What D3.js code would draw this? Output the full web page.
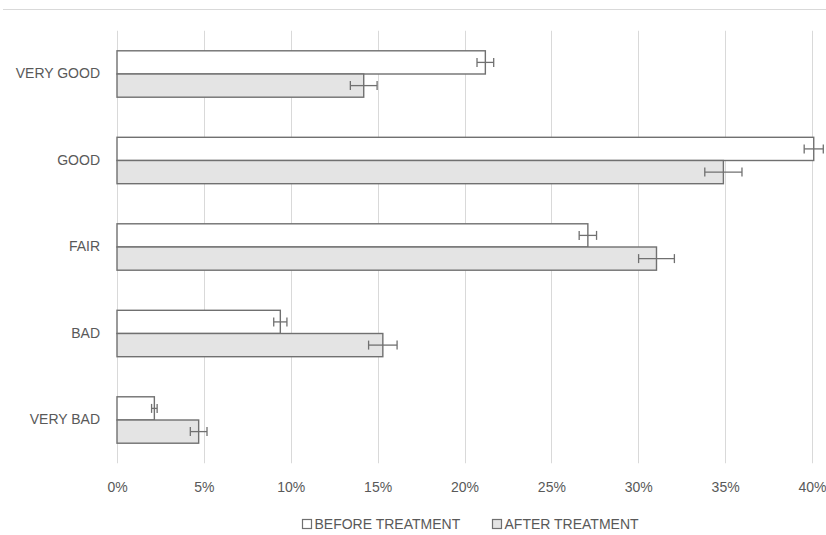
<!DOCTYPE html>
<html><head><meta charset="utf-8">
<script src="https://cdn.jsdelivr.net/npm/d3@7"></script>
<style>body{margin:0;background:#fff;}svg{display:block;font-family:"Liberation Sans",Arial,sans-serif;}</style>
</head><body><svg id="c" width="826" height="535"></svg>
<script>
const categories = ["VERY GOOD","GOOD","FAIR","BAD","VERY BAD"];
const seriesNames = ["BEFORE TREATMENT","AFTER TREATMENT"];
const beforeVals = [21.2, 40.1, 27.1, 9.4, 2.15];
const beforeErr = [0.48, 0.55, 0.5, 0.38, 0.16];
const afterVals = [14.2, 34.9, 31.05, 15.3, 4.7];
const afterErr = [0.77, 1.07, 1.03, 0.82, 0.48];
const xTicks = [0,5,10,15,20,25,30,35,40];

(function(){
const svg = d3.select("#c");
const mLeft = 117, mRight = 812, mTop = 30.75, mBottom = 463.25;
const x = d3.scaleLinear().domain([0,40]).range([mLeft,mRight]);
const y = d3.scaleBand().domain(categories).range([mTop,mBottom]);
const barH = 23.2;
const textCol = "#595959", strokeCol = "#707070";

svg.append("line").attr("x1",3).attr("x2",826).attr("y1",9.5).attr("y2",9.5).attr("stroke","#d9d9d9").attr("stroke-width",1);

svg.append("g").selectAll("line").data(xTicks).join("line")
  .attr("x1",d=>Math.round(x(d))+0.5).attr("x2",d=>Math.round(x(d))+0.5)
  .attr("y1",mTop).attr("y2",mBottom).attr("stroke","#d9d9d9").attr("stroke-width",1);

const xa = svg.append("g").attr("transform",`translate(0,${mBottom})`)
  .call(d3.axisBottom(x).tickValues(xTicks).tickFormat(d=>d+"%").tickSize(0).tickPadding(19));
xa.select(".domain").remove();
xa.selectAll("text").attr("fill",textCol).attr("font-size",14).attr("font-family","Liberation Sans, Arial, sans-serif");

const ya = svg.append("g").attr("transform",`translate(${mLeft},0)`)
  .call(d3.axisLeft(y).tickSize(0).tickPadding(17));
ya.select(".domain").remove();
ya.selectAll("text").attr("fill",textCol).attr("font-size",14).attr("font-family","Liberation Sans, Arial, sans-serif");

const series = [
  {name:seriesNames[0], vals:beforeVals, err:beforeErr, fill:"#ffffff", off:-barH},
  {name:seriesNames[1], vals:afterVals, err:afterErr, fill:"#e4e4e4", off:0}
];
series.forEach(s=>{
  const g = svg.append("g");
  g.selectAll("rect").data(categories).join("rect")
    .attr("x",x(0)).attr("y",(c)=>y(c)+y.bandwidth()/2+s.off)
    .attr("width",(c,i)=>x(s.vals[i])-x(0)).attr("height",barH)
    .attr("fill",s.fill).attr("stroke",strokeCol).attr("stroke-width",1.4);
  categories.forEach((c,i)=>{
    const cy = y(c)+y.bandwidth()/2+s.off+barH/2;
    const x1 = x(s.vals[i]-s.err[i]), x2 = x(s.vals[i]+s.err[i]);
    g.append("line").attr("x1",x1).attr("x2",x2).attr("y1",cy).attr("y2",cy).attr("stroke",strokeCol).attr("stroke-width",1.3);
    [x1,x2].forEach(xx=>g.append("line").attr("x1",xx).attr("x2",xx).attr("y1",cy-4.5).attr("y2",cy+4.5).attr("stroke",strokeCol).attr("stroke-width",1.3));
  });
});

const legX = [302.5, 492.5];
series.forEach((s,i)=>{
  svg.append("rect").attr("x",legX[i]).attr("y",519.5).attr("width",9).attr("height",9)
    .attr("fill",s.fill).attr("stroke",strokeCol).attr("stroke-width",1.2);
  svg.append("text").attr("x",legX[i]+12).attr("y",529).attr("fill",textCol).attr("font-size",14)
    .text(s.name);
});
})();
</script></body></html>
